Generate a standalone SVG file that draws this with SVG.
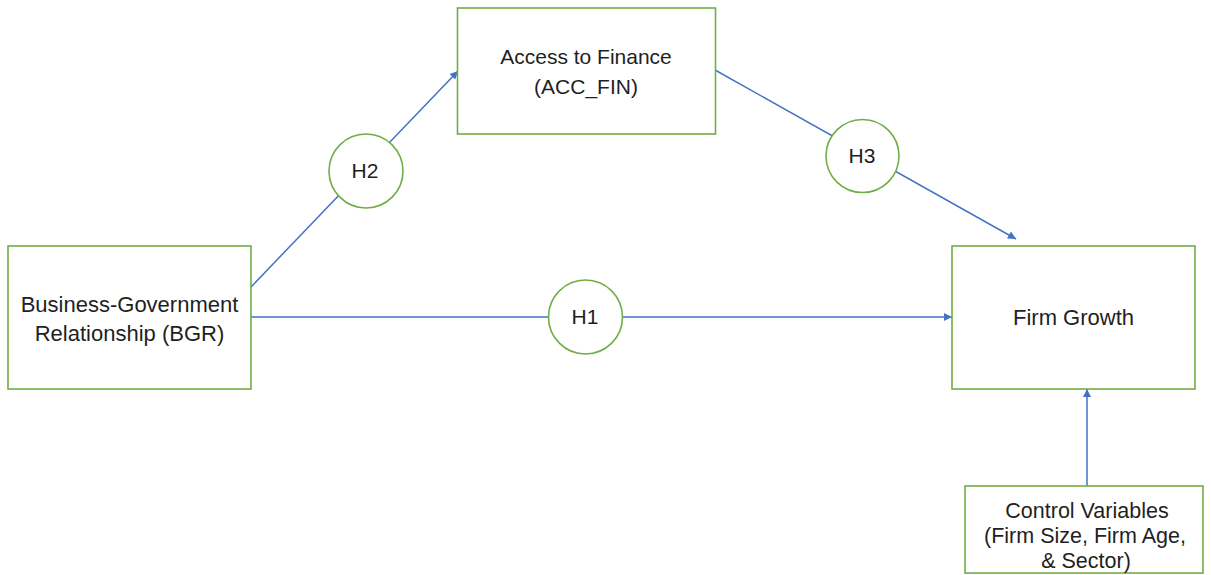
<svg xmlns="http://www.w3.org/2000/svg" width="1211" height="575" viewBox="0 0 1211 575">
<style>
.box{fill:#fff;stroke:#70AD47;stroke-width:1.6}
.hyp{fill:#fff;stroke:#70AD47;stroke-width:1.6}
.lbl{font-family:"Liberation Sans",Arial,sans-serif;font-size:21px;fill:#1f1f1f;text-anchor:middle}
.big{font-size:22px}
.ctl{font-size:21.5px}
.conn{stroke:#4472C4;stroke-width:1.5;fill:none}
</style>
<defs>
<marker id="arr" viewBox="0 0 10 10" refX="10" refY="5" markerWidth="9" markerHeight="8" markerUnits="userSpaceOnUse" orient="auto">
<path d="M0,0 L10,5 L0,10 z" fill="#4472C4"/>
</marker>
</defs>
<rect width="1211" height="575" fill="#fff"/>
<g id="connectors">
<line class="conn" x1="251" y1="287" x2="458" y2="71" marker-end="url(#arr)"/>
<line class="conn" x1="715" y1="70" x2="1016" y2="239" marker-end="url(#arr)"/>
<line class="conn" x1="251" y1="317" x2="952" y2="317" marker-end="url(#arr)"/>
<line class="conn" x1="1087" y1="486" x2="1087" y2="389" marker-end="url(#arr)"/>
</g>
<g id="bgr">
<rect class="box" x="8" y="246" width="243" height="143"/>
<text class="lbl big" x="129.5" y="312">Business-Government</text>
<text class="lbl big" x="129.5" y="341">Relationship (BGR)</text>
</g>
<g id="acc_fin">
<rect class="box" x="457.5" y="8" width="258" height="126"/>
<text class="lbl" x="586" y="64">Access to Finance</text>
<text class="lbl" x="586" y="94">(ACC_FIN)</text>
</g>
<g id="firm_growth">
<rect class="box" x="952" y="246" width="243" height="143"/>
<text class="lbl big" x="1073.5" y="325">Firm Growth</text>
</g>
<g id="controls">
<rect class="box" x="965" y="486" width="238" height="87"/>
<text class="lbl ctl" x="1087" y="518">Control Variables</text>
<text class="lbl ctl" x="1085" y="543">(Firm Size, Firm Age,</text>
<text class="lbl ctl" x="1086" y="567.5">&amp; Sector)</text>
</g>
<g id="h2">
<circle class="hyp" cx="366" cy="171" r="37"/>
<text class="lbl" x="365" y="178">H2</text>
</g>
<g id="h3">
<circle class="hyp" cx="862.5" cy="156" r="36.5"/>
<text class="lbl" x="862" y="163">H3</text>
</g>
<g id="h1">
<circle class="hyp" cx="585.5" cy="317" r="37"/>
<text class="lbl" x="585" y="324">H1</text>
</g>
</svg>
